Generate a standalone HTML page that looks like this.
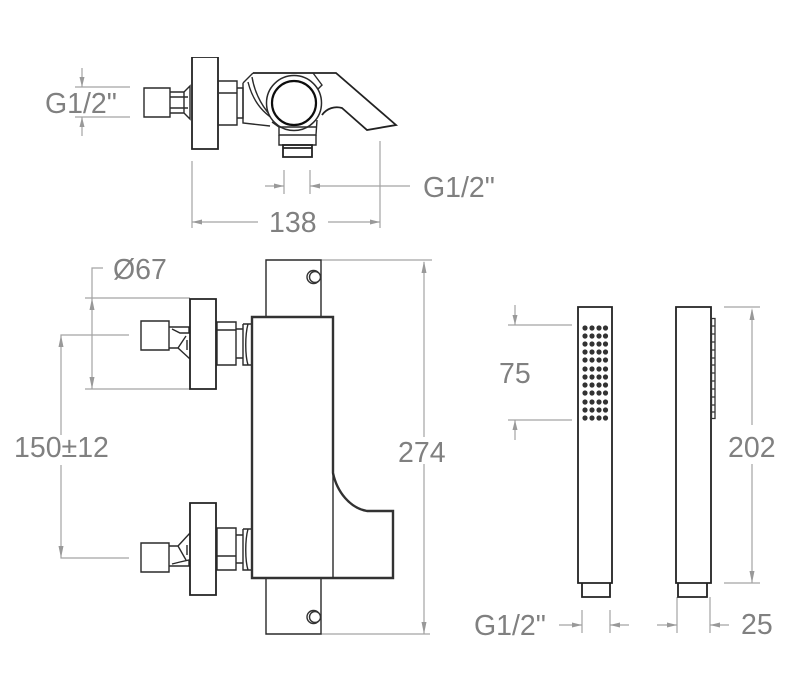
<!DOCTYPE html>
<html><head><meta charset="utf-8"><style>
html,body{margin:0;padding:0;background:#fff;width:795px;height:693px;overflow:hidden}
svg{display:block}
text{font-family:"Liberation Sans",sans-serif;font-size:28.5px;fill:#808080}
.d{stroke:#a3a3a3;stroke-width:1.2;fill:none}
.a{fill:#999;stroke:none}
.k{stroke:#2a2a2a;stroke-width:1.4;fill:none}
.h{stroke:#222;stroke-width:1.8;fill:none}
.t{stroke:#333;stroke-width:2.4;fill:none}
</style></head><body>
<svg width="795" height="693" viewBox="0 0 795 693" xmlns="http://www.w3.org/2000/svg">
<defs><filter id="b" x="0" y="0" width="100%" height="100%"><feGaussianBlur stdDeviation="0.35"/></filter></defs>
<g filter="url(#b)">

<!-- top view dims -->
<path class="d" d="M75 87H130M75 117H130M82 68V87M82 117V136M192 161V228M380 141V228M192 222H258M328 222H380M284 170V194M310 170V194M265 186H284M310 186H410"/>
<path class="a" d="M82 87l-2.500-10h5zM82 117l-2.500 10h5zM192 222l10-2.500v5zM380 222l-10-2.500v5zM284 186l-10-2.500v5zM310 186l10-2.500v5z"/>
<text x="45" y="113">G1/2"</text>
<text x="423" y="197">G1/2"</text>
<text x="269" y="232">138</text>

<!-- top view faucet -->
<path class="k" d="M144 88H170V117H144ZM170 92H184V113H170ZM170 97H188M170 108H188M184 92L190 86V119L184 113"/>
<path class="h" d="M192 57H218V149H192Z"/>
<path class="k" d="M218 81H237V125H218ZM219 93H237M237 88H243V118H237"/>
<path class="k" d="M243 83L253 73M243 83V123L270 126M248 82C252 98 260 110 272 118M252 77C255 95 264 110 275 120"/>
<path class="h" d="M253 73H336L396 125L367 130L342 108C335 106 327 108 322 115"/>
<path class="k" d="M313 73L322 85L317 90"/>
<circle cx="294" cy="103" r="27.500" fill="#fff" stroke="#2a2a2a" stroke-width="1.500"/>
<circle cx="294" cy="103" r="22" fill="#fff" stroke="#111" stroke-width="2.200"/>
<path class="k" d="M272 122L279 127V135H316L317 120M279 127H316"/>
<path class="k" d="M279 135V145H316V135"/>
<path class="h" d="M283 145H312V157H283ZM283 148H312"/>

<!-- main view dims -->
<path class="d" d="M103 268H92V389M85 298H190M85 389H190M129 335H61V435M61 465V558H129M321 260H432M321 634H430M424 262V437M424 464V634"/>
<path class="a" d="M92 298l-2.500 12h5zM92 389l-2.500-12h5zM61 335l-2.500 12h5zM61 558l-2.500-12h5zM424 261l-2.500 12h5zM424 634l-2.500-12h5z"/>
<text x="113" y="279">Ø67</text>
<text x="14" y="457">150±12</text>
<text x="398" y="462">274</text>

<!-- upper inlet -->
<path class="k" d="M141 321H169V350H141ZM169 327H189V333L180 333L172 329M169 327V348H178L190 359M178 348L186 336M187 340V350"/>
<path class="h" d="M190 299H216V389H190Z"/>
<path class="k" d="M217 322H236V365H217ZM217 330H236M236 329H243V358H236M243 324H252M243 324V365H252M248 324C245 335 245 355 248 365"/>
<!-- lower inlet -->
<path class="k" d="M141 543H169V572H141ZM169 546H178L190 533M169 546V566H189V560L180 562L172 564M178 546L186 560M187 545V555"/>
<path class="h" d="M190 503H216V595H190Z"/>
<path class="k" d="M217 528H236V570H217ZM217 556H236M236 535H243V563H236M243 529H252M243 529V570H252M248 529C245 540 245 560 248 570"/>

<!-- main body -->
<path class="k" d="M266 317V260H321V317M266 578V634H321V578"/>
<path class="t" d="M252 578V317H333V473C337 492 350 508 367 511H393V578Z"/>
<path class="k" d="M333 473V578"/>
<circle cx="313.500" cy="277" r="6.500" fill="#fff" stroke="#333" stroke-width="1.400"/>
<circle cx="315" cy="277" r="5.500" fill="#fff" stroke="#333" stroke-width="1.400"/>
<circle cx="313.500" cy="617" r="6.500" fill="#fff" stroke="#333" stroke-width="1.400"/>
<circle cx="315" cy="617" r="5.500" fill="#fff" stroke="#333" stroke-width="1.400"/>

<!-- handset dims -->
<path class="d" d="M508 325H572M508 420H572M515 305V325M515 420V440M724 307H760M724 583H760M752 310V425M752 464V583M559 625H582M610 625H629M657 625H677M710 625H729M582 610V633M610 610V633M677 597V633M710 597V633"/>
<path class="a" d="M515 325l-2.500-10h5zM515 420l-2.500 10h5zM752 308l-2.500 12h5zM752 583l-2.500-12h5zM582 625l-10-2.500v5zM610 625l10-2.500v5zM677 625l-10-2.500v5zM710 625l10-2.500v5z"/>
<text x="499" y="383">75</text>
<text x="728" y="457">202</text>
<text x="474" y="635">G1/2"</text>
<text x="741" y="634">25</text>

<!-- handset left -->
<path class="h" d="M578 583V307H612V583ZM582 583V597H610V583"/>
<g fill="#333">
<circle cx="585" cy="328" r="2.600"/><circle cx="592" cy="328" r="2.600"/><circle cx="599" cy="328" r="2.600"/><circle cx="605.500" cy="328" r="2.600"/>
<circle cx="585" cy="336" r="2.600"/><circle cx="592" cy="336" r="2.600"/><circle cx="599" cy="336" r="2.600"/><circle cx="605.500" cy="336" r="2.600"/>
<circle cx="585" cy="344" r="2.600"/><circle cx="592" cy="344" r="2.600"/><circle cx="599" cy="344" r="2.600"/><circle cx="605.500" cy="344" r="2.600"/>
<circle cx="585" cy="352" r="2.600"/><circle cx="592" cy="352" r="2.600"/><circle cx="599" cy="352" r="2.600"/><circle cx="605.500" cy="352" r="2.600"/>
<circle cx="585" cy="360" r="2.600"/><circle cx="592" cy="360" r="2.600"/><circle cx="599" cy="360" r="2.600"/><circle cx="605.500" cy="360" r="2.600"/>
<circle cx="585" cy="369" r="2.600"/><circle cx="592" cy="369" r="2.600"/><circle cx="599" cy="369" r="2.600"/><circle cx="605.500" cy="369" r="2.600"/>
<circle cx="585" cy="377" r="2.600"/><circle cx="592" cy="377" r="2.600"/><circle cx="599" cy="377" r="2.600"/><circle cx="605.500" cy="377" r="2.600"/>
<circle cx="585" cy="385" r="2.600"/><circle cx="592" cy="385" r="2.600"/><circle cx="599" cy="385" r="2.600"/><circle cx="605.500" cy="385" r="2.600"/>
<circle cx="585" cy="393" r="2.600"/><circle cx="592" cy="393" r="2.600"/><circle cx="599" cy="393" r="2.600"/><circle cx="605.500" cy="393" r="2.600"/>
<circle cx="585" cy="402" r="2.600"/><circle cx="592" cy="402" r="2.600"/><circle cx="599" cy="402" r="2.600"/><circle cx="605.500" cy="402" r="2.600"/>
<circle cx="585" cy="410" r="2.600"/><circle cx="592" cy="410" r="2.600"/><circle cx="599" cy="410" r="2.600"/><circle cx="605.500" cy="410" r="2.600"/>
<circle cx="585" cy="418" r="2.600"/><circle cx="592" cy="418" r="2.600"/><circle cx="599" cy="418" r="2.600"/><circle cx="605.500" cy="418" r="2.600"/>
</g>

<!-- handset right -->
<path class="h" d="M676 583V307H711V583ZM678 583V597H707V583"/>
<path d="M711.500 318.500H715V418.500H711.500ZM711.500 326H715M711.500 334H715M711.500 342H715M711.500 350H715M711.500 358H715M711.500 365H715M711.500 373H715M711.500 381H715M711.500 389H715M711.500 397H715M711.500 405H715M711.500 412H715" fill="none" stroke="#333" stroke-width="1.300"/>
</g>
</svg>
</body></html>
